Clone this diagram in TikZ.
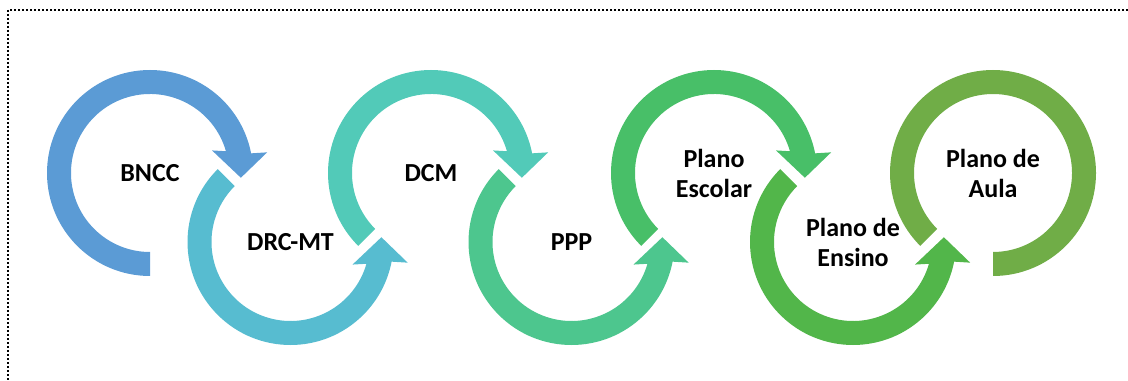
\documentclass[tikz,border=0pt]{standalone}
\usepackage{fontspec}
\setsansfont{Carlito}
\usepackage{tikz}
\definecolor{ring1}{HTML}{5B9BD5}
\definecolor{ring2}{HTML}{57BCD0}
\definecolor{ring3}{HTML}{52CAB8}
\definecolor{ring4}{HTML}{4DC68E}
\definecolor{ring5}{HTML}{48BF68}
\definecolor{ring6}{HTML}{52B64A}
\definecolor{ring7}{HTML}{70AD47}
\tikzset{
  steplabel/.style={
    font=\sffamily\bfseries\fontsize{13}{15}\selectfont,
    align=center, text=black, inner sep=0pt
  },
  ringfill/.style={fill=#1, draw=none},
  ringfill/.default=ring1,
  framebox/.style={
    draw=black, line width=0.8pt, dash pattern=on 1pt off 1pt
  },
}
% ring open below, arrow head on the right pointing down
\newcommand{\toparrow}[3]{%
  \fill[ringfill=#3, shift={(#1.center)}]
    (#2:103) arc[start angle=#2, end angle=11, radius=103]
    -- (10:119) -- (-3:91) -- (20:66) -- (16:79)
    arc[start angle=16, end angle=#2, radius=79] -- cycle;
}
% ring open above, arrow head on the right pointing up
\newcommand{\bottomarrow}[2]{%
  \fill[ringfill=#2, shift={(#1.center)}]
    (135:103) arc[start angle=135, end angle=349, radius=103]
    -- (350:119) -- (3:91) -- (340:66) -- (344:79)
    arc[start angle=344, end angle=135, radius=79] -- cycle;
}

\begin{document}
\begin{tikzpicture}[x=0.5pt, y=0.5pt]
  \useasboundingbox (0,0) rectangle (1128,380);
  \draw[framebox] (8,370) rectangle (1140,-10);

  \node[steplabel] (bncc)   at (150,207)   {BNCC};
  \node[steplabel] (drcmt)  at (290.5,138) {DRC-MT};
  \node[steplabel] (dcm)    at (431,207)   {DCM};
  \node[steplabel] (ppp)    at (571.5,138) {PPP};
  \node[steplabel] (escola) at (714,207)   {Plano\\Escolar};
  \node[steplabel] (ensino) at (853,138)   {Plano de\\Ensino};
  \node[steplabel] (aula)   at (993,207)   {Plano de\\Aula};

  \toparrow{bncc}{270}{ring1}
  \bottomarrow{drcmt}{ring2}
  \toparrow{dcm}{225}{ring3}
  \bottomarrow{ppp}{ring4}
  \toparrow{escola}{225}{ring5}
  \bottomarrow{ensino}{ring6}
  \fill[ringfill=ring7, shift={(aula.center)}]
    (270:103) arc[start angle=270, end angle=585, radius=103]
    -- (585:79) arc[start angle=585, end angle=270, radius=79] -- cycle;
\end{tikzpicture}
\end{document}
